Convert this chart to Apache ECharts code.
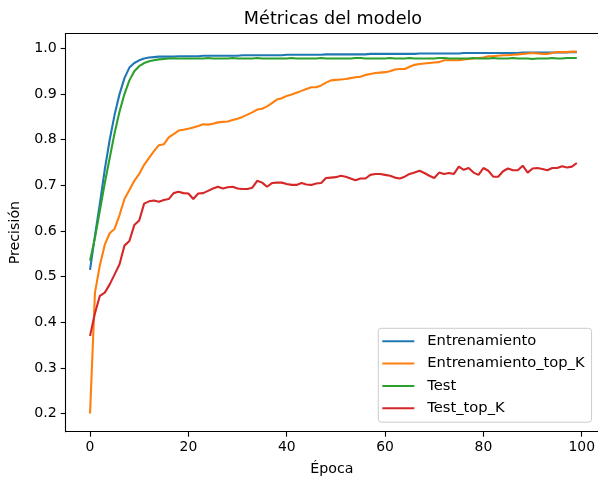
<!DOCTYPE html>
<html>
<head>
<meta charset="utf-8">
<script src="https://cdn.jsdelivr.net/npm/echarts@6/dist/echarts.min.js"></script>
<style>
html,body{margin:0;padding:0;background:#fff;}
#chart{width:598px;height:482px;}
</style>
</head>
<body>
<div id="chart"></div>
<script>
const titleText = 'Métricas del modelo';
const xLabel = 'Época';
const yLabel = 'Precisión';
const seriesNames = ['Entrenamiento', 'Entrenamiento_top_K', 'Test', 'Test_top_K'];
const xTicks = [0, 20, 40, 60, 80, 100];
const yTicks = [0.2, 0.3, 0.4, 0.5, 0.6, 0.7, 0.8, 0.9, 1.0];

const entrenamiento = [
0.515,0.590,0.660,0.735,0.800,0.855,0.900,0.935,0.958,0.968,
0.974,0.978,0.980,0.981,0.982,0.982,0.982,0.982,0.983,0.983,
0.983,0.983,0.983,0.984,0.984,0.984,0.984,0.984,0.984,0.984,
0.984,0.985,0.985,0.985,0.985,0.985,0.985,0.985,0.985,0.985,
0.986,0.986,0.986,0.986,0.986,0.986,0.986,0.986,0.987,0.987,
0.987,0.987,0.987,0.987,0.987,0.987,0.987,0.988,0.988,0.988,
0.988,0.988,0.988,0.988,0.988,0.988,0.988,0.989,0.989,0.989,
0.989,0.989,0.989,0.989,0.989,0.989,0.990,0.990,0.990,0.990,
0.990,0.990,0.990,0.990,0.990,0.990,0.990,0.990,0.991,0.991,
0.991,0.991,0.991,0.991,0.991,0.991,0.991,0.991,0.992,0.992];

const entrenamientoTopK = [
0.200,0.465,0.525,0.570,0.595,0.605,0.635,0.670,0.690,0.710,
0.725,0.745,0.760,0.775,0.788,0.790,0.805,0.812,0.820,0.822,
0.824,0.827,0.830,0.834,0.833,0.835,0.838,0.839,0.840,0.843,
0.846,0.850,0.855,0.860,0.866,0.868,0.873,0.880,0.888,0.891,
0.896,0.899,0.903,0.907,0.911,0.915,0.915,0.919,0.925,0.930,
0.931,0.932,0.933,0.935,0.937,0.938,0.942,0.944,0.946,0.947,
0.948,0.950,0.954,0.955,0.955,0.960,0.964,0.966,0.967,0.968,
0.969,0.970,0.974,0.974,0.974,0.974,0.976,0.977,0.978,0.979,
0.980,0.983,0.983,0.984,0.985,0.985,0.986,0.987,0.988,0.989,
0.990,0.989,0.988,0.988,0.990,0.992,0.992,0.992,0.993,0.993];

const test = [
0.535,0.585,0.645,0.705,0.760,0.815,0.862,0.900,0.930,0.950,
0.961,0.968,0.972,0.974,0.976,0.977,0.978,0.978,0.978,0.978,
0.978,0.978,0.978,0.978,0.979,0.978,0.978,0.978,0.978,0.979,
0.978,0.978,0.978,0.978,0.979,0.978,0.978,0.978,0.978,0.978,
0.978,0.979,0.978,0.978,0.978,0.978,0.978,0.979,0.978,0.978,
0.978,0.978,0.978,0.978,0.979,0.979,0.978,0.978,0.978,0.978,
0.978,0.979,0.978,0.978,0.978,0.979,0.978,0.978,0.978,0.978,
0.978,0.979,0.979,0.978,0.978,0.978,0.978,0.978,0.979,0.978,
0.978,0.978,0.979,0.978,0.978,0.978,0.979,0.978,0.978,0.978,
0.977,0.978,0.978,0.978,0.979,0.978,0.978,0.979,0.979,0.979];

const testTopK = [
0.370,0.420,0.458,0.465,0.483,0.505,0.527,0.568,0.578,0.613,
0.623,0.660,0.665,0.667,0.664,0.668,0.670,0.683,0.686,0.683,
0.682,0.670,0.682,0.683,0.688,0.693,0.697,0.693,0.696,0.697,
0.693,0.692,0.692,0.695,0.710,0.706,0.697,0.705,0.706,0.706,
0.703,0.701,0.701,0.705,0.702,0.701,0.704,0.705,0.716,0.717,
0.718,0.721,0.719,0.715,0.711,0.715,0.715,0.723,0.725,0.725,
0.723,0.721,0.717,0.715,0.719,0.725,0.728,0.732,0.727,0.721,
0.716,0.728,0.725,0.727,0.725,0.741,0.734,0.738,0.728,0.723,
0.738,0.732,0.719,0.719,0.731,0.737,0.733,0.733,0.743,0.728,
0.737,0.738,0.736,0.733,0.738,0.738,0.742,0.739,0.741,0.749];

const colors = ['#1f77b4', '#ff7f0e', '#2ca02c', '#d62728'];
const allSeries = [entrenamiento, entrenamientoTopK, test, testTopK];

const FONT = 'DejaVu Sans';
const chart = echarts.init(document.getElementById('chart'), null, {renderer: 'canvas'});

const option = {
  animation: false,
  backgroundColor: '#ffffff',
  grid: {
    left: 65.7, right: 0, top: 33.5, bottom: 50.3,
    show: false, containLabel: false
  },
  graphic: [{
    type: 'text', x: 333, y: 19,
    style: { text: titleText, font: '17.6px "DejaVu Sans"', fill: '#000', textAlign: 'center', textVerticalAlign: 'middle' }
  }],
  legend: {
    orient: 'vertical', left: 378.3, top: 328.3,
    padding: [5, 7, 6, 4], itemGap: 6.3,
    itemWidth: 32, itemHeight: 2, icon: 'rect',
    backgroundColor: 'rgba(255,255,255,0.8)', borderColor: '#cccccc', borderWidth: 1, borderRadius: 3,
    textStyle: { fontFamily: FONT, fontSize: 14.7, color: '#000', lineHeight: 16, padding: [0, 0, 0, 8] },
    data: seriesNames
  },
  xAxis: [{
    type: 'value', min: -4.95, max: 103.29,
    name: xLabel, nameLocation: 'middle', nameGap: 31,
    nameTextStyle: { fontFamily: FONT, fontSize: 14.2, color: '#000' },
    axisLine: { show: true, onZero: false, lineStyle: { color: '#000', width: 1.1 } },
    axisTick: { show: true, length: 5, lineStyle: { color: '#000', width: 1.1 }, customValues: xTicks },
    axisLabel: { fontFamily: FONT, fontSize: 13.9, color: '#000', margin: 9, customValues: xTicks },
    splitLine: { show: false }
  }, {
    type: 'value', position: 'top', min: -4.95, max: 103.29,
    axisLine: { show: true, onZero: false, lineStyle: { color: '#000', width: 1.1 } },
    axisTick: { show: false }, axisLabel: { show: false }, splitLine: { show: false }
  }],
  yAxis: {
    type: 'value', min: 0.1603, max: 1.0327,
    name: yLabel, nameLocation: 'middle', nameGap: 43,
    nameTextStyle: { fontFamily: FONT, fontSize: 14.2, color: '#000' },
    axisLine: { show: true, onZero: false, lineStyle: { color: '#000', width: 1.1 } },
    axisTick: { show: true, length: 5, lineStyle: { color: '#000', width: 1.1 }, customValues: yTicks },
    axisLabel: { fontFamily: FONT, fontSize: 14.2, color: '#000', margin: 9, customValues: yTicks,
      formatter: v => v.toFixed(1) },
    splitLine: { show: false }
  },
  series: allSeries.map((arr, i) => ({
    name: seriesNames[i],
    type: 'line',
    xAxisIndex: 0,
    data: arr.map((v, k) => [k, v]),
    showSymbol: false,
    symbol: 'none',
    lineStyle: { color: colors[i], width: 2.1 },
    itemStyle: { color: colors[i] },
    clip: true,
    z: 2 + i
  }))
};
chart.setOption(option);
</script>
</body>
</html>
